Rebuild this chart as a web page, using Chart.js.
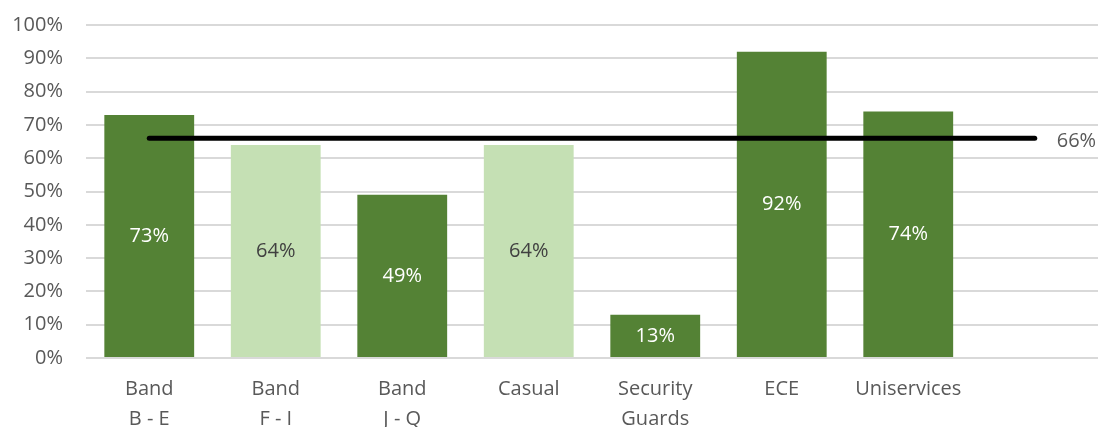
<!DOCTYPE html>
<html>
<head>
<meta charset="utf-8">
<script src="https://cdn.jsdelivr.net/npm/chart.js@4/dist/chart.umd.min.js"></script>
<style>
  html, body { margin: 0; padding: 0; background: #fff; }
  #wrap { width: 1102px; height: 427px; }
</style>
</head>
<body>
<div id="wrap"><canvas id="chart"></canvas></div>
<script>
const categories = [['Band', 'B - E'], ['Band', 'F - I'], ['Band', 'J - Q'], 'Casual', ['Security', 'Guards'], 'ECE', 'Uniservices', ''];
const values = [73, 64, 49, 64, 13, 92, 74, null];
const average = 66;
const dark = '#548235';
const light = '#C5E0B4';
const barColors = [dark, light, dark, light, dark, dark, dark, dark];
const valueColors = ['#ffffff', '#404040', '#ffffff', '#404040', '#ffffff', '#ffffff', '#ffffff', '#ffffff'];

const textColor = '#595959';
const fontFamily = '"Open Sans", "Noto Sans", sans-serif';

// value text in the middle of each bar, plus the 66% tag at the end of the line
const labelPlugin = {
    id: 'labels',
    afterDatasetsDraw(chart) {
        const ctx = chart.ctx;
        ctx.save();
        ctx.font = '20px ' + fontFamily;
        ctx.textAlign = 'center';
        ctx.textBaseline = 'middle';
        const bars = chart.getDatasetMeta(0).data;
        bars.forEach((bar, i) => {
            if (values[i] == null) return;
            ctx.fillStyle = valueColors[i];
            ctx.fillText(values[i] + '%', bar.x, (bar.y + bar.base) / 2);
        });
        const pts = chart.getDatasetMeta(1).data;
        const last = pts[pts.length - 1];
        ctx.fillStyle = textColor;
        ctx.textAlign = 'left';
        ctx.fillText(average + '%', last.x + 22, last.y + 3);
        ctx.restore();
    }
};

new Chart(document.getElementById('chart'), {
    type: 'bar',
    data: {
        labels: categories,
        datasets: [{
            type: 'bar',
            data: values,
            backgroundColor: barColors,
            categoryPercentage: 1,
            barPercentage: 0.71,
            order: 1
        }, {
            type: 'line',
            data: categories.map(() => average),
            borderColor: '#000000',
            borderWidth: 5,
            borderCapStyle: 'round',
            pointRadius: 0,
            order: 0
        }]
    },
    options: {
        responsive: true,
        maintainAspectRatio: false,
        animation: false,
        layout: { padding: { top: 25, right: 4, left: 0, bottom: 0 } },
        plugins: {
            legend: { display: false },
            tooltip: { enabled: false }
        },
        scales: {
            x: {
                grid: { display: false, drawTicks: false },
                border: { display: false },
                ticks: { color: textColor, font: { size: 20, family: fontFamily, lineHeight: 1.5 }, padding: 16, maxRotation: 0, autoSkip: false },
                afterFit: s => { s.height = 69; s.paddingLeft = 0; s.paddingRight = 0; }
            },
            y: {
                min: 0,
                max: 100,
                grid: { color: '#d9d9d9', lineWidth: 2, drawTicks: false },
                border: { display: false },
                ticks: { stepSize: 10, color: textColor, font: { size: 20, family: fontFamily }, padding: 23, callback: v => v + '%' },
                afterFit: s => { s.width = 86; s.paddingTop = 0; s.paddingBottom = 0; }
            }
        }
    },
    plugins: [labelPlugin]
});
</script>
</body>
</html>
